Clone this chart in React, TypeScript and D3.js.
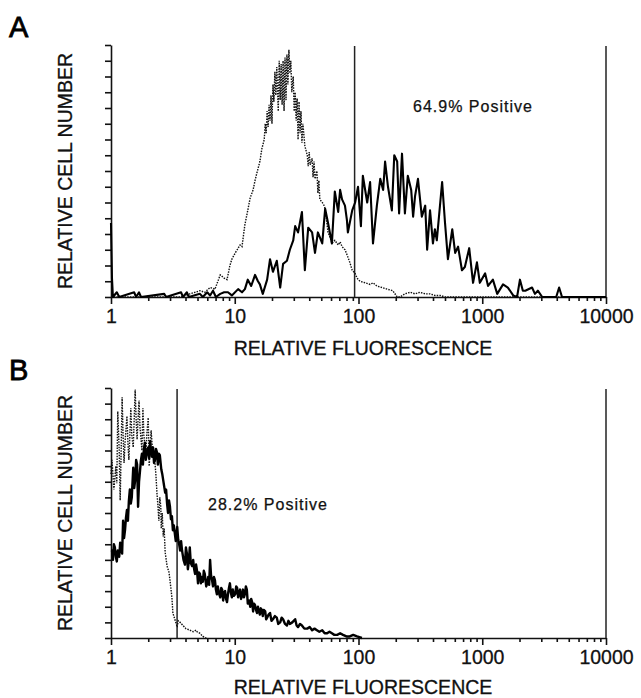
import { useRef, useEffect } from 'react'
import * as d3 from 'd3'

// [channel, count] pairs, 1024 channels over 4 log decades
type Bin = [number, number]

const CHANNELS_PER_DECADE = 256

const decades = [1, 10, 100, 1000, 10000]
const decadeLabels = ['1', '10', '100', '1000', '10000']
const countTicks = [0, 10, 20, 30, 40, 50, 60, 70, 80, 90, 100, 110, 120, 130, 140, 150, 160]

// Panel A - control (dotted)
const controlA: Bin[] = [
  [0, 0], [143, 0], [163, 2], [174, 3], [184, 4], [194, 3], [205, 6], [215, 5], [226, 14], [234, 12],
  [240, 11], [246, 20], [250, 24], [257, 28], [261, 30], [267, 33], [271, 32], [277, 46], [281, 52],
  [288, 63], [294, 68], [298, 74], [302, 79], [308, 86], [312, 94], [317, 100], [319, 110], [321, 104],
  [323, 118], [325, 108], [327, 122], [329, 112], [331, 128], [333, 110], [335, 135], [337, 124],
  [339, 143], [341, 128], [343, 146], [346, 118], [348, 150], [350, 125], [352, 148], [354, 122],
  [356, 150], [358, 118], [360, 152], [362, 125], [364, 154], [366, 135], [368, 157], [370, 142],
  [372, 150], [374, 130], [377, 140], [379, 118], [381, 130], [383, 112], [385, 126], [387, 100],
  [389, 124], [391, 104], [393, 118], [395, 98], [397, 110], [401, 96], [406, 90], [408, 83], [410, 92],
  [412, 84], [416, 88], [418, 76], [420, 86], [422, 75], [426, 80], [428, 66], [430, 74], [432, 62],
  [437, 60], [441, 58], [443, 56], [447, 46], [449, 41], [453, 38], [457, 34], [463, 36], [470, 33],
  [474, 35], [478, 32], [484, 30], [488, 27], [494, 22], [499, 17], [505, 15], [509, 12], [515, 10],
  [526, 9], [536, 8], [542, 9], [550, 7], [561, 6], [571, 5], [583, 4], [592, 0], [598, 0], [608, 2],
  [619, 3], [629, 2], [639, 3], [650, 2], [660, 2], [670, 1], [681, 1], [691, 0], [1024, 0],
]

// Panel A - stained (solid)
const testA: Bin[] = [
  [0, 47], [2, 12], [4, 0], [12, 3], [17, 0], [48, 3], [52, 0], [58, 3], [62, 0], [110, 2], [114, 0],
  [145, 3], [149, 0], [157, 3], [161, 0], [184, 2], [190, 0], [199, 3], [205, 1], [211, 4], [217, 0],
  [226, 2], [234, 3], [242, 3], [250, 1], [263, 5], [271, 3], [277, 5], [283, 11], [290, 7], [298, 14],
  [304, 10], [308, 8], [314, 2], [323, 11], [329, 24], [335, 16], [343, 23], [350, 6], [356, 21],
  [364, 23], [370, 30], [377, 36], [381, 45], [387, 41], [395, 54], [401, 17], [408, 44], [416, 41],
  [422, 28], [428, 41], [437, 34], [443, 56], [449, 47], [457, 34], [463, 67], [470, 54], [474, 68],
  [478, 62], [484, 58], [488, 49], [490, 41], [499, 55], [505, 60], [511, 70], [517, 45], [521, 77],
  [530, 60], [536, 73], [542, 34], [550, 58], [557, 75], [563, 68], [567, 86], [573, 70], [581, 55],
  [586, 90], [592, 86], [596, 53], [602, 91], [608, 53], [614, 77], [621, 68], [625, 51], [629, 64],
  [635, 75], [643, 51], [650, 58], [654, 30], [660, 55], [666, 34], [670, 43], [674, 36], [685, 73],
  [691, 47], [697, 24], [706, 43], [712, 28], [718, 32], [726, 17], [732, 19], [741, 31], [749, 9],
  [757, 22], [763, 9], [774, 15], [780, 7], [790, 11], [799, 2], [811, 8], [821, 6], [832, 1], [840, 0],
  [846, 11], [852, 4], [857, 4], [871, 6], [877, 2], [883, 4], [892, 0], [921, 0], [927, 6], [933, 0],
  [1024, 0],
]

// Panel B - control (dotted)
const controlB: Bin[] = [
  [0, 105], [2, 114], [6, 95], [10, 110], [12, 99], [14, 145], [17, 120], [19, 88], [21, 120], [23, 154],
  [25, 130], [27, 112], [29, 125], [33, 142], [35, 125], [37, 114], [39, 130], [41, 147], [43, 130],
  [46, 122], [48, 140], [50, 159], [52, 140], [54, 127], [56, 140], [58, 152], [60, 135], [64, 120],
  [66, 147], [68, 130], [72, 116], [74, 130], [77, 141], [79, 110], [83, 133], [85, 124], [87, 116],
  [89, 120], [91, 112], [93, 104], [95, 93], [97, 85], [99, 75], [101, 90], [103, 84], [104, 70],
  [106, 80], [108, 65], [110, 70], [112, 55], [116, 46], [120, 42], [122, 37], [126, 26], [128, 16],
  [132, 12], [137, 7], [139, 11], [143, 10], [149, 8], [155, 6], [163, 5], [170, 4], [176, 5], [178, 4],
  [184, 3], [190, 1], [197, 0],
]

// Panel B - stained (solid)
const testB: Bin[] = [
  [0, 56], [2, 56], [4, 50], [6, 60], [8, 58], [10, 52], [12, 49], [14, 56], [17, 52], [19, 61], [21, 57],
  [23, 54], [25, 75], [27, 64], [29, 69], [31, 77], [33, 82], [35, 75], [37, 88], [39, 95], [41, 86],
  [43, 90], [46, 109], [48, 96], [50, 101], [52, 114], [54, 111], [56, 84], [58, 100], [60, 107],
  [62, 114], [64, 118], [66, 111], [68, 121], [70, 125], [72, 114], [74, 118], [77, 122], [79, 115],
  [81, 126], [83, 119], [85, 116], [87, 122], [89, 112], [91, 114], [93, 121], [95, 119], [97, 111],
  [99, 118], [101, 117], [104, 108], [106, 105], [108, 101], [110, 97], [112, 93], [114, 95],
  [116, 86], [118, 80], [120, 88], [122, 84], [124, 76], [126, 78], [128, 69], [130, 72], [132, 67],
  [134, 62], [137, 71], [139, 63], [141, 60], [143, 56], [145, 62], [147, 56], [150, 50], [153, 47],
  [155, 58], [157, 54], [159, 44], [161, 49], [163, 58], [165, 48], [168, 46], [170, 50], [172, 44],
  [174, 41], [176, 47], [178, 43], [180, 35], [182, 42], [184, 41], [186, 35], [188, 39], [190, 36],
  [192, 43], [194, 41], [197, 33], [199, 35], [201, 39], [203, 34], [205, 50], [207, 40], [209, 37],
  [211, 33], [213, 39], [215, 37], [217, 31], [219, 28], [221, 33], [223, 29], [226, 26], [228, 32],
  [230, 31], [232, 24], [234, 29], [236, 30], [238, 25], [240, 23], [242, 28], [244, 32], [246, 35],
  [248, 29], [250, 26], [252, 31], [254, 27], [257, 28], [259, 33], [261, 32], [263, 26], [265, 29],
  [267, 31], [269, 25], [271, 27], [273, 31], [275, 26], [277, 28], [279, 33], [281, 31], [283, 22],
  [286, 24], [288, 20], [290, 25], [292, 23], [294, 17], [296, 22], [298, 21], [300, 18], [302, 16],
  [304, 20], [306, 17], [308, 15], [310, 19], [312, 18], [314, 14], [316, 18], [319, 17], [321, 12],
  [323, 13], [326, 15], [329, 16], [332, 11], [335, 12], [339, 14], [343, 13], [346, 9], [350, 10],
  [353, 13], [356, 12], [360, 9], [364, 8], [367, 11], [370, 9], [375, 10], [381, 12], [384, 8],
  [387, 7], [391, 9], [395, 8], [400, 6], [406, 6], [411, 7], [416, 5], [421, 6], [426, 5], [431, 4],
  [437, 5], [442, 3], [447, 3], [452, 4], [457, 3], [462, 2], [468, 2], [474, 3], [480, 2], [487, 1],
  [494, 1], [501, 2], [509, 1], [519, 0],
]

const FONT = '"Liberation Sans", Arial, Helvetica, sans-serif'

const panels = [
  { letter: 'A', top: 45, bottom: 297, gate: 93, label: '64.9% Positive', labelX: 413, labelY: 112, control: controlA, test: testA, solidWidth: 2.1 },
  { letter: 'B', top: 388, bottom: 638, gate: 3.42, label: '28.2% Positive', labelX: 208, labelY: 510, control: controlB, test: testB, solidWidth: 2.4 },
]

const App = () => {
  const svgRef = useRef<SVGSVGElement>(null)

  useEffect(() => {
    if (!svgRef.current) return
    const svg = d3.select(svgRef.current)
    svg.selectAll('*').remove()

    const left = 111
    const right = 606
    const x = d3.scaleLog().domain([1, 10000]).range([left, right])
    const fl = (ch: number) => Math.pow(10, ch / CHANNELS_PER_DECADE)
    const minorTicks = decades.slice(0, 4).flatMap(d => [2, 3, 4, 5, 6, 7, 8, 9].map(k => k * d))

    panels.forEach((p, pi) => {
      const y = d3.scaleLinear().domain([0, 160]).range([p.bottom, p.top])
      const g = svg.append('g')

      // panel letter
      g.append('text')
        .attr('x', 9)
        .attr('y', p.top - 8)
        .attr('fill', '#000')
        .attr('stroke', '#000')
        .attr('stroke-width', 0.8)
        .style('font-family', FONT)
        .style('font-size', '29px')
        .text(p.letter)

      // y axis
      const yAxis = g.append('g')
        .attr('transform', `translate(${left},0)`)
        .call(d3.axisLeft(y).tickValues(countTicks).tickSize(6).tickSizeOuter(0).tickFormat(() => ''))
      yAxis.selectAll('line, path').attr('stroke', '#111').attr('stroke-width', 1.6)

      // x axis, minor ticks
      const xMinor = g.append('g')
        .attr('transform', `translate(0,${p.bottom})`)
        .call(d3.axisBottom(x).tickValues(minorTicks).tickSize(4).tickSizeOuter(0).tickFormat(() => ''))
      xMinor.selectAll('line, path').attr('stroke', '#111').attr('stroke-width', 1.6)

      // x axis, decades
      const xMajor = g.append('g')
        .attr('transform', `translate(0,${p.bottom})`)
        .call(d3.axisBottom(x).tickValues(decades).tickSize(7).tickSizeOuter(0).tickPadding(5)
          .tickFormat((_, i) => decadeLabels[i]))
      xMajor.select('path').remove()
      xMajor.selectAll('line').attr('stroke', '#111').attr('stroke-width', 1.6)
      xMajor.selectAll('text')
        .attr('fill', '#111')
        .attr('stroke', '#111')
        .attr('stroke-width', 0.3)
        .style('font-family', FONT)
        .style('font-size', '19.5px')

      // right edge and gate markers
      ;[10000, p.gate].forEach(v => {
        g.append('line')
          .attr('x1', x(v)).attr('x2', x(v))
          .attr('y1', p.top + 1).attr('y2', p.bottom)
          .attr('stroke', '#222')
          .attr('stroke-width', 1.5)
      })

      const line = d3.line<Bin>()
        .x(d => x(fl(d[0])))
        .y(d => y(d[1]))

      g.append('path')
        .datum(p.control)
        .attr('fill', 'none')
        .attr('stroke', '#111')
        .attr('stroke-width', 1.4)
        .attr('stroke-dasharray', '1.5,1.2')
        .attr('d', line)

      g.append('path')
        .datum(p.test)
        .attr('fill', 'none')
        .attr('stroke', '#000')
        .attr('stroke-width', p.solidWidth)
        .attr('stroke-linejoin', 'round')
        .attr('d', line)

      // percent positive annotation
      g.append('text')
        .attr('x', p.labelX)
        .attr('y', p.labelY)
        .attr('fill', '#111')
        .attr('stroke', '#111')
        .attr('stroke-width', 0.25)
        .style('font-family', FONT)
        .style('font-size', '16px')
        .style('letter-spacing', '1px')
        .text(p.label)

      // axis titles
      g.append('text')
        .attr('x', 363)
        .attr('y', p.bottom + (pi === 0 ? 58 : 56))
        .attr('text-anchor', 'middle')
        .attr('fill', '#111')
        .attr('stroke', '#111')
        .attr('stroke-width', 0.3)
        .style('font-family', FONT)
        .style('font-size', '19.5px')
        .text('RELATIVE FLUORESCENCE')

      g.append('text')
        .attr('transform', `translate(72,${(p.top + p.bottom) / 2}) rotate(-90)`)
        .attr('text-anchor', 'middle')
        .attr('fill', '#111')
        .attr('stroke', '#111')
        .attr('stroke-width', 0.3)
        .style('font-family', FONT)
        .style('font-size', '19.5px')
        .text('RELATIVE CELL NUMBER')
    })
  }, [])

  return (
    <svg
      ref={svgRef}
      width={641}
      height={698}
      style={{ position: 'absolute', left: 0, top: 0, background: '#fff' }}
    />
  )
}

export default App
